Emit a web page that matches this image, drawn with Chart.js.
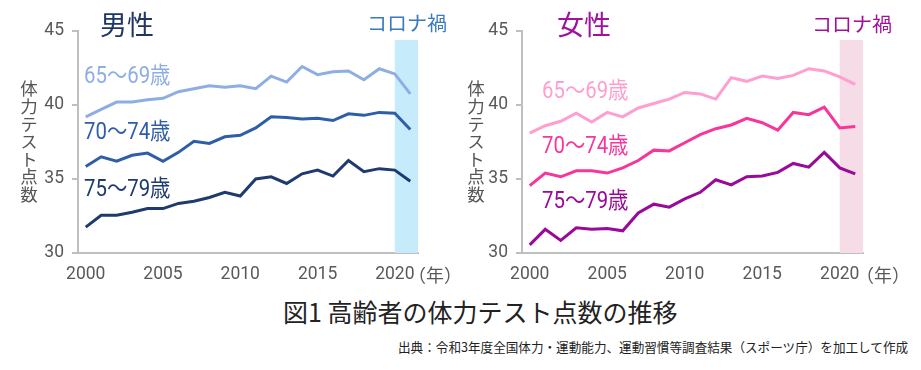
<!DOCTYPE html>
<html lang="ja">
<head>
<meta charset="utf-8">
<script src="https://cdn.jsdelivr.net/npm/chart.js@4.4.0/dist/chart.umd.min.js"></script>
<style>
body { margin: 0; background: #fff; }
#wrap { position: relative; width: 921px; height: 370px; overflow: hidden; font-family: 'Noto Sans CJK JP', sans-serif; }
canvas { position: absolute; top: 0; }
.t { position: absolute; white-space: nowrap; line-height: 1; }
.num { font-family: Roboto, 'Noto Sans CJK JP', sans-serif; font-size: 23px; transform: scaleX(0.885); transform-origin: left top; }
.ytitle { writing-mode: vertical-rl; text-orientation: upright; font-size: 17.5px; color: #555; letter-spacing: 0.1px; }
</style>
</head>
<body>
<div id="wrap">
  <canvas id="maleChart" width="460" height="290" style="left:0"></canvas>
  <canvas id="femaleChart" width="461" height="290" style="left:460px"></canvas>

  <div class="t" style="left:100px;top:10px;font-size:27px;color:#1f3566">男性</div>
  <div class="t" style="left:367px;top:13px;font-size:20px;color:#3a7abd">コロナ禍</div>
  <div class="t ytitle" style="left:20px;top:80px">体力テスト点数</div>
  <div class="t num" style="left:84px;top:64px;color:#8eaee3">65～69歳</div>
  <div class="t num" style="left:84px;top:120px;color:#2f5ea8">70～74歳</div>
  <div class="t num" style="left:84px;top:177px;color:#1e3a6e">75～79歳</div>
  <div class="t" style="left:408px;top:265px;font-size:18px;color:#595959">（年）</div>

  <div class="t" style="left:557px;top:10px;font-size:27px;color:#a0119d">女性</div>
  <div class="t" style="left:812px;top:14px;font-size:20px;color:#a0119d">コロナ禍</div>
  <div class="t ytitle" style="left:467px;top:80px">体力テスト点数</div>
  <div class="t num" style="left:542px;top:79px;color:#ff9fcf">65～69歳</div>
  <div class="t num" style="left:542px;top:134px;color:#f7369b">70～74歳</div>
  <div class="t num" style="left:542px;top:189px;color:#99099a">75～79歳</div>
  <div class="t" style="left:856px;top:265px;font-size:18px;color:#595959">（年）</div>

  <div class="t" style="left:283px;top:299px;font-size:25px;color:#222">図1 高齢者の体力テスト点数の推移</div>
  <div class="t" style="left:398px;top:341px;font-size:12.6px;color:#222">出典：令和3年度全国体力・運動能力、運動習慣等調査結果（スポーツ庁）を加工して作成</div>
</div>

<script>
// 年（横軸）
const years = ['2000','2001','2002','2003','2004','2005','2006','2007','2008','2009','2010',
               '2011','2012','2013','2014','2015','2016','2017','2018','2019','2020','2021'];

// 男性
const male6569 = [39.2, 39.7, 40.2, 40.2, 40.35, 40.45, 40.9, 41.1, 41.3, 41.2, 41.3,
                  41.1, 41.95, 41.55, 42.6, 42.05, 42.25, 42.3, 41.7, 42.45, 42.1, 40.75];
const male7074 = [35.85, 36.5, 36.2, 36.6, 36.75, 36.2, 36.8, 37.55, 37.4, 37.85, 37.95,
                  38.45, 39.2, 39.15, 39.05, 39.1, 38.95, 39.4, 39.3, 39.5, 39.45, 38.35];
const male7579 = [31.75, 32.55, 32.55, 32.75, 33.0, 33.0, 33.35, 33.5, 33.75, 34.1, 33.85,
                  35.0, 35.15, 34.7, 35.35, 35.6, 35.2, 36.25, 35.5, 35.7, 35.6, 34.85];

// 女性
const female6569 = [38.1, 38.6, 38.9, 39.45, 38.85, 39.5, 39.2, 39.8, 40.1, 40.4, 40.85,
                    40.75, 40.4, 41.85, 41.6, 41.95, 41.8, 42.0, 42.45, 42.3, 41.9, 41.4];
const female7074 = [34.55, 35.4, 35.15, 35.55, 35.55, 35.4, 35.75, 36.25, 36.95, 36.9, 37.45,
                    38.0, 38.4, 38.65, 39.1, 38.8, 38.3, 39.5, 39.35, 39.85, 38.45, 38.55];
const female7579 = [30.55, 31.6, 30.85, 31.7, 31.6, 31.65, 31.5, 32.7, 33.3, 33.1, 33.65,
                    34.1, 34.95, 34.6, 35.15, 35.2, 35.45, 36.05, 35.8, 36.8, 35.75, 35.35];

const yMin = 30, yMax = 45, yStep = 5;
const coronaStart = '2020';
const bandTop = 44.4;

const maleColors = ['#8eaee3', '#2f5ea8', '#1e3a6e'];
const femaleColors = ['#ff9fcf', '#f7369b', '#99099a'];

const tickFont = { family: "Roboto, sans-serif", size: 17.5 };

// コロナ禍の帯
const bandPlugin = {
  id: 'band',
  beforeDatasetsDraw(chart, args, opts) {
    const { ctx, chartArea, scales: { x, y } } = chart;
    const x0 = x.getPixelForValue(years.indexOf(coronaStart));
    const y0 = y.getPixelForValue(bandTop);
    ctx.save();
    ctx.fillStyle = opts.color;
    ctx.fillRect(x0, y0, chartArea.right - x0, chartArea.bottom - y0);
    ctx.restore();
  }
};

function makeChart(id, series, colors, bandColor, padRight, yWidth) {
  const ctx = document.getElementById(id).getContext('2d');
  return new Chart(ctx, {
    type: 'line',
    data: {
      labels: years,
      datasets: series.map((d, i) => ({
        data: d,
        borderColor: colors[i],
        borderWidth: 3,
        pointRadius: 0,
        tension: 0,
        fill: false
      }))
    },
    options: {
      responsive: false,
      animation: false,
      layout: { padding: { top: 31, right: padRight, left: 0, bottom: 0 } },
      plugins: {
        legend: { display: false },
        tooltip: { enabled: false },
        band: { color: bandColor }
      },
      scales: {
        x: {
          offset: true,
          grid: { display: false, drawTicks: false },
          border: { color: '#bfbfbf', width: 2 },
          ticks: {
            autoSkip: false, maxRotation: 0, padding: 11, color: '#595959', font: tickFont,
            callback: (v, i) => (Number(years[i]) % 5 === 0 ? years[i] : '')
          },
          afterFit: s => { s.height = 37; }
        },
        y: {
          min: yMin, max: yMax,
          ticks: { stepSize: yStep, padding: 8, color: '#595959', font: tickFont },
          grid: { drawOnChartArea: false, tickLength: 6, color: '#bfbfbf', lineWidth: 2 },
          border: { color: '#bfbfbf', width: 2 },
          afterFit: s => { s.width = yWidth; }
        }
      }
    },
    plugins: [bandPlugin]
  });
}

makeChart('maleChart', [male6569, male7074, male7579], maleColors, '#c6ebfb', 42, 78);
makeChart('femaleChart', [female6569, female7074, female7579], femaleColors, '#f6dce6', 58, 62);
</script>
</body>
</html>
